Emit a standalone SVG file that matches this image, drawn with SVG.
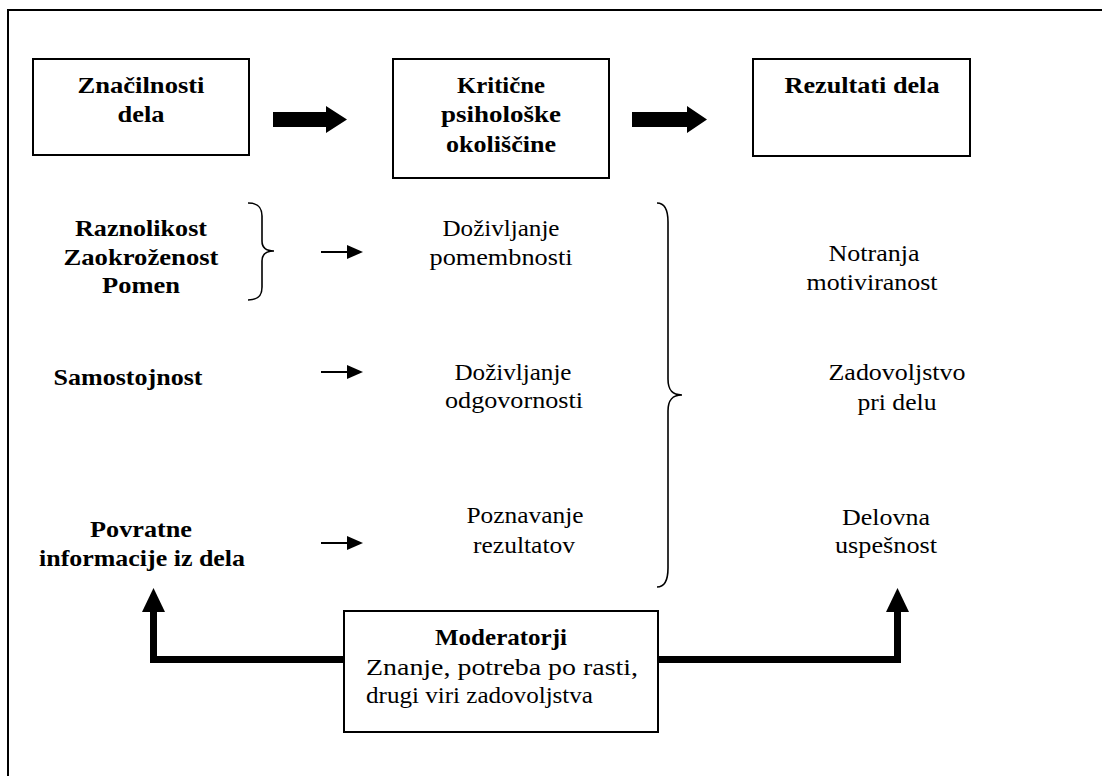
<svg xmlns="http://www.w3.org/2000/svg" width="1102" height="776" viewBox="0 0 1102 776">
  <style>
    text { font-family: 'Liberation Serif', 'Times New Roman', 'DejaVu Serif', serif; font-size: 23px; fill: #000; text-anchor: middle; }
    .b { font-weight: bold; }
    .box { fill: #fff; stroke: #000; stroke-width: 2; }
    .brace { fill: none; stroke: #000; stroke-width: 1.6; }
    .thin { stroke: #000; stroke-width: 2; fill: none; }
    .thick { stroke: #000; stroke-width: 7; fill: none; stroke-linejoin: miter; }
    .head { fill: #000; }
  </style>
  <defs>
    <marker id="tip" viewBox="0 0 16 14" refX="2" refY="7" markerWidth="16" markerHeight="14" markerUnits="userSpaceOnUse" orient="auto">
      <path d="M0,0 L16,7 L0,14 Z" fill="#000"/>
    </marker>
  </defs>

  <rect width="1102" height="776" fill="#fff"/>
  <!-- outer frame (right and bottom edges fall outside the page) -->
  <rect x="8" y="10" width="1120" height="800" fill="none" stroke="#000" stroke-width="2"/>

  <g font-family="Liberation Serif, DejaVu Serif, serif">
  <!-- header boxes -->
  <g id="znacilnosti">
    <rect class="box" x="33" y="59" width="216" height="96"/>
    <text class="b" x="141" y="93" textLength="127" lengthAdjust="spacingAndGlyphs">Značilnosti</text>
    <text class="b" x="141" y="122" textLength="47" lengthAdjust="spacingAndGlyphs">dela</text>
  </g>
  <g id="kriticne">
    <rect class="box" x="393" y="59" width="216" height="119"/>
    <text class="b" x="501" y="93" textLength="88" lengthAdjust="spacingAndGlyphs">Kritične</text>
    <text class="b" x="501" y="122" textLength="120" lengthAdjust="spacingAndGlyphs">psihološke</text>
    <text class="b" x="501" y="152" textLength="110" lengthAdjust="spacingAndGlyphs">okoliščine</text>
  </g>
  <g id="rezultati">
    <rect class="box" x="753" y="59" width="217" height="97"/>
    <text class="b" x="862" y="93" textLength="155" lengthAdjust="spacingAndGlyphs">Rezultati dela</text>
  </g>

  <!-- job characteristics -->
  <g id="raznolikost">
    <text class="b" x="141" y="236" textLength="132" lengthAdjust="spacingAndGlyphs">Raznolikost</text>
    <text class="b" x="141" y="265" textLength="155" lengthAdjust="spacingAndGlyphs">Zaokroženost</text>
    <text class="b" x="141" y="293" textLength="78" lengthAdjust="spacingAndGlyphs">Pomen</text>
    <path class="brace" d="M248,203 C258,203 262,207 262,216 L262,241 C262,248 266,251 274,251 C266,251 262,254 262,261 L262,287 C262,296 258,300 248,300"/>
  </g>
  <g id="samostojnost">
    <text class="b" x="128" y="385" textLength="149" lengthAdjust="spacingAndGlyphs">Samostojnost</text>
  </g>
  <g id="povratne">
    <text class="b" x="141" y="537" textLength="102" lengthAdjust="spacingAndGlyphs">Povratne</text>
    <text class="b" x="142" y="566" textLength="206" lengthAdjust="spacingAndGlyphs">informacije iz dela</text>
  </g>

  <!-- psychological states -->
  <g id="pomembnost">
    <text x="501" y="236" textLength="117" lengthAdjust="spacingAndGlyphs">Doživljanje</text>
    <text x="501" y="265" textLength="143" lengthAdjust="spacingAndGlyphs">pomembnosti</text>
  </g>
  <g id="odgovornost">
    <text x="513" y="380" textLength="117" lengthAdjust="spacingAndGlyphs">Doživljanje</text>
    <text x="514" y="408" textLength="138" lengthAdjust="spacingAndGlyphs">odgovornosti</text>
  </g>
  <g id="poznavanje">
    <text x="525" y="523" textLength="117" lengthAdjust="spacingAndGlyphs">Poznavanje</text>
    <text x="524" y="553" textLength="102" lengthAdjust="spacingAndGlyphs">rezultatov</text>
  </g>
  <path class="brace" d="M657,203 C665,203 668,210 668,222 L668,379 C668,390 672,395 682,395 C672,395 668,400 668,411 L668,568 C668,580 665,587 657,587"/>

  <!-- outcomes -->
  <g id="motiviranost">
    <text x="874" y="261" textLength="91" lengthAdjust="spacingAndGlyphs">Notranja</text>
    <text x="872" y="290" textLength="131" lengthAdjust="spacingAndGlyphs">motiviranost</text>
  </g>
  <g id="zadovoljstvo">
    <text x="897" y="380" textLength="137" lengthAdjust="spacingAndGlyphs">Zadovoljstvo</text>
    <text x="897" y="410" textLength="79" lengthAdjust="spacingAndGlyphs">pri delu</text>
  </g>
  <g id="uspesnost">
    <text x="886" y="525" textLength="88" lengthAdjust="spacingAndGlyphs">Delovna</text>
    <text x="886" y="553" textLength="102" lengthAdjust="spacingAndGlyphs">uspešnost</text>
  </g>

  <!-- moderators -->
  <g id="moderatorji">
    <rect class="box" x="344" y="611" width="314" height="121"/>
    <text class="b" x="501" y="645" textLength="132" lengthAdjust="spacingAndGlyphs">Moderatorji</text>
    <text x="502" y="675" textLength="272" lengthAdjust="spacingAndGlyphs">Znanje, potreba po rasti,</text>
    <text x="366" y="703" style="text-anchor:start" textLength="227" lengthAdjust="spacingAndGlyphs">drugi viri zadovoljstva</text>
  </g>
  </g>

  <!-- connectors -->
  <g id="connectors">
    <polygon class="head" points="273,112 326,112 326,106 347,119.5 326,133 326,127 273,127"/>
    <polygon class="head" points="632,112 687,112 687,106 707,119.5 687,133 687,127 632,127"/>
    <line class="thin" x1="321" y1="252" x2="349" y2="252" marker-end="url(#tip)"/>
    <line class="thin" x1="321" y1="372" x2="349" y2="372" marker-end="url(#tip)"/>
    <line class="thin" x1="321" y1="543" x2="349" y2="543" marker-end="url(#tip)"/>
    <path class="thick" d="M344,659.5 H153.5 V611"/>
    <polygon class="head" points="142,612 165,612 153.5,588"/>
    <path class="thick" d="M658,659.5 H897.5 V611"/>
    <polygon class="head" points="886,612 909,612 897.5,588"/>
  </g>
</svg>
